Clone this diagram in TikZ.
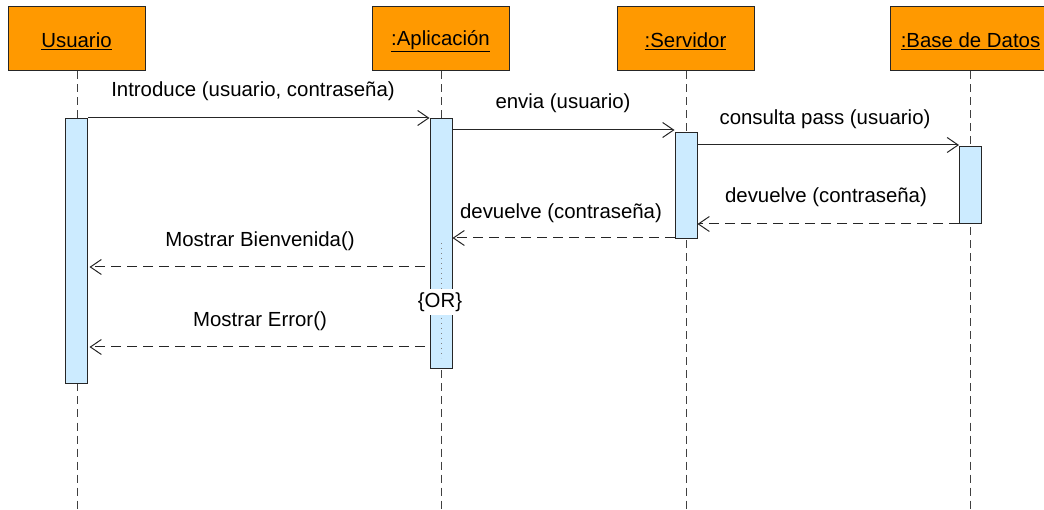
\documentclass[tikz,border=0pt]{standalone}
\usepackage{fontspec}
\setmainfont{Liberation Sans}
\usetikzlibrary{arrows.meta}
\definecolor{objfill}{HTML}{FF9900}
\definecolor{actfill}{HTML}{CCEBFF}
\definecolor{lifegray}{HTML}{404040}
\tikzset{
  obj/.style={draw=black!85, fill=objfill, line width=1pt, minimum width=137pt, minimum height=64pt, inner sep=0pt, font=\fontsize{20.4}{23}\selectfont},
  act/.style={draw=black!85, fill=actfill, line width=1pt, minimum width=22pt, inner sep=0pt, anchor=north},
  life/.style={draw=lifegray, line width=1pt, dash pattern=on 8pt off 5pt},
  msg/.style={draw=black!85, line width=1pt, -{Straight Barb[length=11pt,width=15pt,line width=1pt]}},
  ret/.style={msg, dash pattern=on 10pt off 6pt},
  lbl/.style={inner sep=0pt, font=\fontsize{20.4}{23}\selectfont}
}
\begin{document}
\begin{tikzpicture}[x=1pt,y=-1pt]
\useasboundingbox (0,0) rectangle (1044,510);
\clip (0,0) rectangle (1044,510);

% object heads
\node[obj] (u) at (76.5,39) {};
\node[obj] (a) at (440.5,39) {};
\node[obj] (s) at (685.5,39) {};
\node[obj, minimum width=160pt] (b) at (970.5,39) {};
\node[lbl] (ut) at (76.5,41) {\underline{Usuario}};
\node[lbl] (at) at (440.5,41) {\underline{:Aplicación}};
\node[lbl] (st) at (685.5,41) {\underline{:Servidor}};
\node[lbl] (bt) at (970.5,41) {\underline{:Base de Datos}};

% lifelines
\coordinate (uend) at (77,510);
\coordinate (aend) at (441,510);
\coordinate (send) at (686,510);
\coordinate (bend) at (970,510);
\draw[life] (u.south -| uend) -- (uend);
\draw[life] (a.south -| aend) -- (aend);
\draw[life] (s.south -| send) -- (send);
\draw[life] (b.south -| bend) -- (bend);

% activation bars
\node[act, minimum height=265pt] (ua) at (76.5,118) {};
\node[act, minimum height=250pt] (aa) at (441,118) {};
\node[act, minimum height=106pt] (sa) at (686,132) {};
\node[act, minimum height=77pt] (ba) at (970.5,146) {};

% alternative markers inside the application bar
\coordinate (d1) at (441,243);
\coordinate (d2) at (441,290);
\coordinate (d3) at (441,318);
\coordinate (d4) at (441,358);
\draw[gray, line width=0.8pt, dash pattern=on 1pt off 4pt] (d1) -- (d2);
\draw[gray, line width=0.8pt, dash pattern=on 1pt off 4pt] (d3) -- (d4);
\node[lbl, fill=white, inner xsep=1pt, inner ysep=3pt] (or) at (440,302) {\{OR\}};

% calls
\draw[msg] (ua.north east) -- (aa.north west);
\node[lbl] (l1) at (253,91) {Introduce (usuario, contraseña)};

\coordinate (m2) at (0,130);
\draw[msg] (aa.east |- m2) -- (sa.west |- m2);
\node[lbl] (l2) at (563,103) {envia (usuario)};

\coordinate (m3) at (0,145);
\draw[msg] (sa.east |- m3) -- (ba.west |- m3);
\node[lbl] (l3) at (825,119) {consulta pass (usuario)};

% replies
\coordinate (m4) at (0,224);
\draw[ret] (ba.west |- m4) -- (sa.east |- m4);
\node[lbl] (l4) at (826,197) {devuelve (contraseña)};

\coordinate (m5) at (0,238);
\draw[ret] (sa.west |- m5) -- (aa.east |- m5);
\node[lbl] (l5) at (561,213) {devuelve (contraseña)};

\coordinate (m6) at (425,267);
\draw[ret] (m6) -- ([xshift=1.5pt]ua.east |- m6);
\node[lbl] (l6) at (260,241) {Mostrar Bienvenida()};

\coordinate (m7) at (425,347);
\draw[ret] (m7) -- ([xshift=1.5pt]ua.east |- m7);
\node[lbl] (l7) at (260,321) {Mostrar Error()};
\end{tikzpicture}
\end{document}
